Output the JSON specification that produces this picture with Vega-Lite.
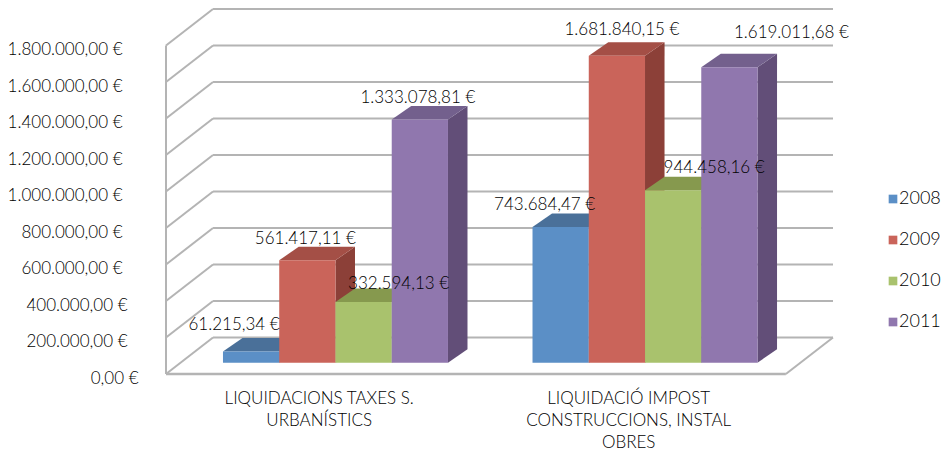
{
"$schema":"https://vega.github.io/schema/vega-lite/v6.json",
"width":667,"height":365,
"autosize":{"type":"none"},
"padding":{"left":166,"top":9,"right":113,"bottom":82},
"background":"white",
"config":{"view":{"stroke":null},"locale":{"number":{"decimal":",","thousands":".","grouping":[3],"currency":[""," €"]}},"text":{"font":"Lato"},
 "axisY":{"title":null,"format":"$,.2f","domain":false,"ticks":false,"grid":false,"labelFont":"Lato","labelFontWeight":300,"labelFontSize":17,"labelColor":"#000000","labelOffset":4,"labelPadding":{"expr":"datum.value==0?28:(datum.value<=400000?39:44)"}}},
"datasets":{
"bars":[
{"category":"LIQUIDACIONS TAXES S.\nURBANÍSTICS","year":2008,"value":61215.34},
{"category":"LIQUIDACIONS TAXES S.\nURBANÍSTICS","year":2009,"value":561417.11},
{"category":"LIQUIDACIONS TAXES S.\nURBANÍSTICS","year":2010,"value":332594.13},
{"category":"LIQUIDACIONS TAXES S.\nURBANÍSTICS","year":2011,"value":1333078.81},
{"category":"LIQUIDACIÓ IMPOST\nCONSTRUCCIONS, INSTAL\nOBRES","year":2008,"value":743684.47},
{"category":"LIQUIDACIÓ IMPOST\nCONSTRUCCIONS, INSTAL\nOBRES","year":2009,"value":1681840.15},
{"category":"LIQUIDACIÓ IMPOST\nCONSTRUCCIONS, INSTAL\nOBRES","year":2010,"value":944458.16},
{"category":"LIQUIDACIÓ IMPOST\nCONSTRUCCIONS, INSTAL\nOBRES","year":2011,"value":1619011.68}
],
"ticks":[{"v":0},{"v":200000},{"v":400000},{"v":600000},{"v":800000},{"v":1000000},{"v":1200000},{"v":1400000},{"v":1600000},{"v":1800000}]
},
"layer":[
{"layer":[
{"data":{"name":"ticks"},
 "transform":[{"calculate":"datum.v+200000","as":"back"}],
 "mark":{"type":"rule","color":"#b4b4b4","strokeWidth":2},
 "encoding":{
  "x":{"datum":0.836,"type":"quantitative","scale":{"domain":[0,11.858],"nice":false,"zero":false},"axis":null},
  "x2":{"datum":11.858},
  "y":{"field":"back","type":"quantitative","title":null,"scale":{"domain":[0,2000000],"nice":false},"axis":{"values":[0,200000,400000,600000,800000,1000000,1200000,1400000,1600000,1800000]}}}},
{"data":{"name":"ticks"},
 "transform":[{"calculate":"datum.v+200000","as":"back"}],
 "mark":{"type":"rule","color":"#b4b4b4","strokeWidth":2},
 "encoding":{
  "x":{"datum":0,"type":"quantitative","scale":{"domain":[0,11.858],"nice":false,"zero":false},"axis":null},
  "x2":{"datum":0.836},
  "y":{"field":"v","type":"quantitative","title":null,"scale":{"domain":[0,2000000],"nice":false},"axis":{"values":[0,200000,400000,600000,800000,1000000,1200000,1400000,1600000,1800000]}},
  "y2":{"field":"back"}}},
{"data":{"values":[{"v":0,"top":1800000}]},
 "mark":{"type":"rule","color":"#b4b4b4","strokeWidth":2},
 "encoding":{
  "x":{"datum":0,"type":"quantitative","scale":{"domain":[0,11.858],"nice":false,"zero":false},"axis":null},
  "y":{"field":"v","type":"quantitative","title":null,"scale":{"domain":[0,2000000],"nice":false},"axis":{"values":[0,200000,400000,600000,800000,1000000,1200000,1400000,1600000,1800000]}},
  "y2":{"field":"top"}}},
{"data":{"values":[{"v":0}]},
 "mark":{"type":"rule","color":"#b4b4b4","strokeWidth":2.5},
 "encoding":{
  "x":{"datum":0,"type":"quantitative","scale":{"domain":[0,11.858],"nice":false,"zero":false},"axis":null},
  "x2":{"datum":11.02},
  "y":{"field":"v","type":"quantitative","title":null,"scale":{"domain":[0,2000000],"nice":false},"axis":{"values":[0,200000,400000,600000,800000,1000000,1200000,1400000,1600000,1800000]}}}},
{"data":{"values":[{"v":0,"back":200000}]},
 "mark":{"type":"rule","color":"#b4b4b4","strokeWidth":2},
 "encoding":{
  "x":{"datum":11.02,"type":"quantitative","scale":{"domain":[0,11.858],"nice":false,"zero":false},"axis":null},
  "x2":{"datum":11.858},
  "y":{"field":"v","type":"quantitative","title":null,"scale":{"domain":[0,2000000],"nice":false},"axis":{"values":[0,200000,400000,600000,800000,1000000,1200000,1400000,1600000,1800000]}},
  "y2":{"field":"back"}}}
]},
{"layer":[
{"data":{"name":"bars"},
 "transform":[
  {"calculate":"(indexof(datum.category,'URBAN')>=0?1.013:6.516)+datum.year-2008","as":"left"},
  {"calculate":"[datum.left+1,datum.left+1.347]","as":"px"},
  {"calculate":"[datum.value,datum.value+73973]","as":"up"},
  {"calculate":"[0,73973]","as":"lo"},
  {"flatten":["px","up","lo"]}],
 "mark":{"type":"area","interpolate":"linear"},
 "encoding":{
  "x":{"field":"px","type":"quantitative","scale":{"domain":[0,11.858],"nice":false,"zero":false},"axis":null},
  "y":{"field":"up","type":"quantitative","stack":null,"scale":{"domain":[-61918,1938082],"nice":false,"zero":false},"axis":null},
  "y2":{"field":"lo"},
  "detail":{"field":"category"},
  "color":{"field":"year","type":"nominal","legend":null,"scale":{"domain":[2008,2009,2010,2011],"range":["#3f6a9a","#8c4038","#7d8f4d","#624e78"]}}}},
{"data":{"name":"bars"},
 "transform":[
  {"calculate":"(indexof(datum.category,'URBAN')>=0?1.013:6.516)+datum.year-2008","as":"left"},
  {"calculate":"[datum.left,datum.left+0.347,datum.left+1,datum.left+1.347]","as":"px"},
  {"calculate":"[datum.value,datum.value+73973,datum.value+73973,datum.value+73973]","as":"up"},
  {"calculate":"[datum.value,datum.value,datum.value,datum.value+73973]","as":"lo"},
  {"flatten":["px","up","lo"]}],
 "mark":{"type":"area","interpolate":"linear"},
 "encoding":{
  "x":{"field":"px","type":"quantitative","scale":{"domain":[0,11.858],"nice":false,"zero":false},"axis":null},
  "y":{"field":"up","type":"quantitative","stack":null,"scale":{"domain":[-61918,1938082],"nice":false,"zero":false},"axis":null},
  "y2":{"field":"lo"},
  "detail":{"field":"category"},
  "color":{"field":"year","type":"nominal","legend":null,"scale":{"domain":[2008,2009,2010,2011],"range":["#4a7099","#a44f46","#86994e","#73608d"]}}}},
{"data":{"name":"bars"},
 "transform":[
  {"calculate":"(indexof(datum.category,'URBAN')>=0?1.013:6.516)+datum.year-2008","as":"left"},
  {"calculate":"datum.left+1","as":"right"}],
 "mark":{"type":"bar"},
 "encoding":{
  "x":{"field":"left","type":"quantitative","scale":{"domain":[0,11.858],"nice":false,"zero":false},"axis":null},
  "x2":{"field":"right"},
  "y":{"field":"value","type":"quantitative","stack":null,"scale":{"domain":[-61918,1938082],"nice":false,"zero":false},"axis":null},
  "y2":{"datum":0},
  "color":{"field":"year","type":"nominal","scale":{"domain":[2008,2009,2010,2011],"range":["#5b8fc6","#ca645a","#a9c26d","#9077ae"]},
   "legend":{"title":null,"orient":"none","legendX":718,"legendY":181,"symbolType":"square","symbolSize":75,"symbolStrokeWidth":0,"labelFont":"Lato","labelFontWeight":300,"labelFontSize":18,"labelColor":"#000000","rowPadding":23,"labelOffset":-3,"padding":0}}}},
{"data":{"name":"bars"},
 "transform":[
  {"calculate":"(indexof(datum.category,'URBAN')>=0?0:4)+datum.year-2008","as":"idx"},
  {"calculate":"(indexof(datum.category,'URBAN')>=0?1.013:6.516)+datum.year-2008+0.5+[-17,-2,35,-2,-16,5,41,62][datum.idx]/56.25","as":"labelX"},
  {"calculate":"datum.value+[27,21,18,21,22,26,22,34][datum.idx]/18.25*100000","as":"labelY"}],
 "mark":{"type":"text","font":"Lato","fontWeight":300,"fontSize":17,"color":"#000000","baseline":"middle","align":"center"},
 "encoding":{
  "x":{"field":"labelX","type":"quantitative","scale":{"domain":[0,11.858],"nice":false,"zero":false},"axis":null},
  "y":{"field":"labelY","type":"quantitative","scale":{"domain":[-61918,1938082],"nice":false,"zero":false},"axis":null},
  "text":{"field":"value","type":"quantitative","format":"$,.2f"}}},
{"data":{"name":"bars"},
 "transform":[
  {"filter":"datum.year==2008"},
  {"calculate":"(indexof(datum.category,'URBAN')>=0?1.013:6.516)+1.71","as":"cx"}],
 "mark":{"type":"text","font":"Lato","fontWeight":300,"fontSize":17,"color":"#000000","baseline":"top","align":"center","lineBreak":"\n","lineHeight":22,"dy":28,"clip":false},
 "encoding":{
  "x":{"field":"cx","type":"quantitative","scale":{"domain":[0,11.858],"nice":false,"zero":false},"axis":null},
  "y":{"datum":0,"type":"quantitative","scale":{"domain":[-61918,1938082],"nice":false,"zero":false},"axis":null},
  "text":{"field":"category","type":"nominal"}}}
],"resolve":{"scale":{"color":"independent"}}}
],
"resolve":{"scale":{"y":"independent"}}
}
